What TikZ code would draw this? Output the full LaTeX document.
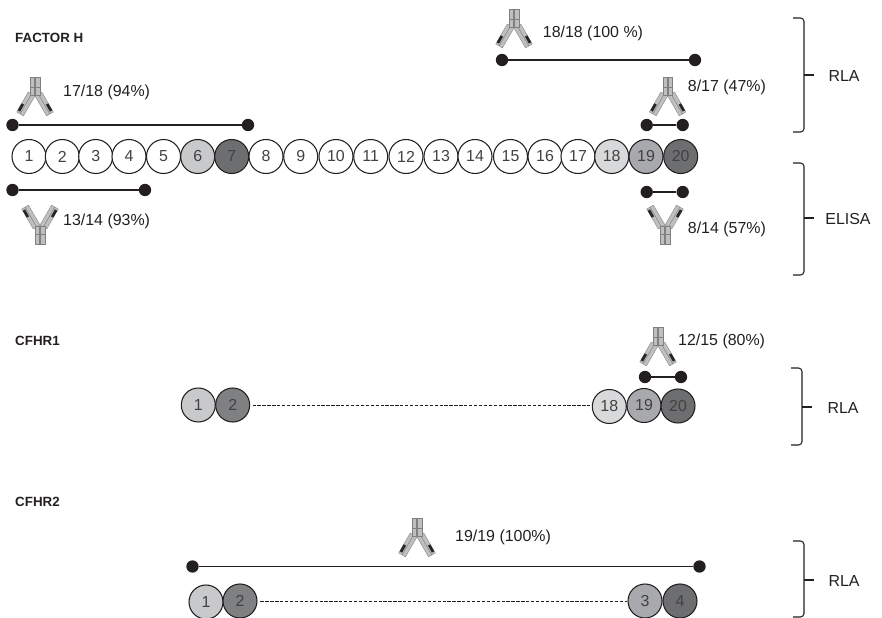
\documentclass[tikz,border=0pt]{standalone}
\usepackage{fontspec}
\setmainfont{Liberation Sans}
\usetikzlibrary{positioning}
\definecolor{domLight}{RGB}{200,201,203}
\definecolor{domPale}{RGB}{216,217,218}
\definecolor{domMid}{RGB}{167,169,172}
\definecolor{domDark}{RGB}{109,110,112}
\definecolor{domDarker}{RGB}{127,128,130}
\definecolor{inkDark}{RGB}{35,31,32}
\definecolor{abGray}{RGB}{190,191,193}
\tikzset{
  dom/.style={circle,draw=inkDark,line width=0.9pt,minimum size=1.02cm,inner sep=0pt,text=inkDark!85,font=\fontsize{13.6}{15}\selectfont},
  dotnode/.style={circle,fill=inkDark,minimum size=0.37cm,inner sep=0pt},
  barline/.style={line width=1.15pt,color=inkDark},
  dashline/.style={line width=0.8pt,dash pattern=on 2.8pt off 1.4pt,color=inkDark},
  pct/.style={anchor=west,inner sep=0pt,text=inkDark,font=\fontsize{13.6}{16}\selectfont},
  title/.style={anchor=west,inner sep=0pt,text=inkDark,font=\fontsize{11.4}{13}\selectfont\bfseries},
  assay/.style={inner sep=0pt,text=inkDark,font=\fontsize{13.6}{16}\selectfont},
  brk/.style={line width=0.9pt,color=inkDark,rounded corners=3pt},
  abbar/.style={draw=black!50,fill=abGray,line width=0.3pt},
  antibody/.pic={
    \foreach \s in {-1,1} {
      \begin{scope}[shift={(\s*3.4,-1)},rotate={\s*30}]
        \draw[abbar] (-3.9,0) rectangle (0,23);
        \draw[abbar] (0,0) rectangle (3.9,23);
        \fill[black!85] (\s*1.2,13) rectangle (\s*3.9,21);
      \end{scope}
    }
    \draw[abbar] (-4.8,-18) rectangle (-0.5,0);
    \draw[abbar] (0.5,-18) rectangle (4.8,0);
    \draw[black!50,line width=0.3pt] (-4.8,-8) -- (-0.5,-8) (0.5,-8) -- (4.8,-8);
  }
}
\begin{document}
\begin{tikzpicture}[x=0.03cm,y=-0.03cm]
  \useasboundingbox (0,0) rectangle (882,618);
  \node[title] (fhtitle) at (15,38) {FACTOR H};
  \node[title] (r1title) at (15,341) {CFHR1};
  \node[title] (r2title) at (15,502) {CFHR2};
  \foreach \n/\x/\c in {1/29/white,2/62.3/white,3/95.7/white,4/129/white,5/163.5/white,6/197.7/domLight,7/231.7/domDark,8/266/white,9/300.7/white,10/336/white,11/370.7/white,12/406/white,13/441/white,14/475/white,15/510.5/white,16/545/white,17/578/white,18/611.7/domPale,19/646/domMid,20/680.7/domDark}
    \node[dom,fill=\c] (fh\n) at (\x,156.5) {\n};
  \node[dom,fill=domLight] (ra1) at (198.3,405) {1};
  \node[dom,fill=domDarker] (ra2) at (232.7,405) {2};
  \node[dom,fill=domPale] (ra18) at (609.3,406.5) {18};
  \node[dom,fill=domMid] (ra19) at (644,405.5) {19};
  \node[dom,fill=domDark] (ra20) at (678,406) {20};
  \node[dom,fill=domLight] (rb1) at (206,602) {1};
  \node[dom,fill=domDarker] (rb2) at (240,601) {2};
  \node[dom,fill=domMid] (rb3) at (645,601) {3};
  \node[dom,fill=domDark] (rb4) at (680,601) {4};
  \draw[dashline,shorten <=2pt] (ra2.east) -- (ra2.east -| ra18.west);
  \draw[dashline,shorten <=2.5pt] (rb2.east) -- (rb2.east -| rb3.west);
  \foreach \nm/\xa/\xb/\yy in {fa/12.5/248/125,fb/12.5/145/190,fc/502/695/60,fd/646.7/682.7/125,fe/646.7/682.7/192,rf/645/681/377,rg/192.5/699.5/566.5} {
    \node[dotnode] (\nm a) at (\xa,\yy) {};
    \node[dotnode] (\nm b) at (\xb,\yy) {};
    \draw[barline] (\nm a) -- (\nm b);
  }
  \pic at (35,95) {antibody};
  \pic at (514,27) {antibody};
  \pic at (667.7,95) {antibody};
  \pic at (658,345) {antibody};
  \pic at (417,536) {antibody};
  \pic[yscale=-1] at (40,226) {antibody};
  \pic[yscale=-1] at (665,226) {antibody};
  \node[pct] (ab1) at (63,92) {17/18 (94\%)};
  \node[pct] (ab2) at (63,221.5) {13/14 (93\%)};
  \node[pct] (ab3) at (542.7,33) {18/18 (100 \%)};
  \node[pct] (ab4) at (687.7,87.5) {8/17 (47\%)};
  \node[pct] (ab5) at (687.7,229) {8/14 (57\%)};
  \node[pct] (ab6) at (678,341.5) {12/15 (80\%)};
  \node[pct] (ab7) at (455,537) {19/19 (100\%)};
  \foreach \nm/\xa/\ya/\yb/\ym/\xl/\txt in {ba/793/18/132/75/844/RLA,bb/793/163/275/218/848/ELISA,bc/791/368/445/407/843/RLA,bd/793/541/617/580/844/RLA} {
    \coordinate (\nm t) at (\xa,\ya);
    \coordinate (\nm m) at (\xa+11,\ym);
    \coordinate (\nm b) at (\xa,\yb);
    \coordinate (\nm e) at (\xa+21,\ym);
    \draw[brk] (\nm t) -| (\nm m) |- (\nm b);
    \draw[brk] (\nm m) -- (\nm e);
    \node[assay] (\nm l) at (\xl,\ym+1.5) {\txt};
  }
\end{tikzpicture}
\end{document}
